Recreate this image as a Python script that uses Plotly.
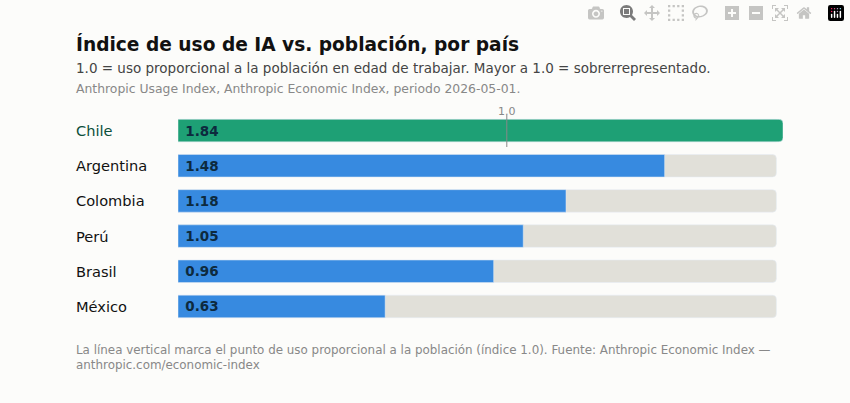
import plotly.graph_objects as go

countries = ["Chile", "Argentina", "Colombia", "Perú", "Brasil", "México"]
values = [1.84, 1.48, 1.18, 1.05, 0.96, 0.63]
track_max = 1.82
highlight = "Chile"

W, H = 850, 403
colors = ["#1ea075" if c == highlight else "#378ae0" for c in countries]

fig = go.Figure()
# gray track behind each bar
fig.add_trace(go.Bar(
    y=countries, x=[track_max] * len(countries), orientation="h",
    marker=dict(color="#e1e0d9", cornerradius=4), width=0.64,
    hoverinfo="skip", showlegend=False,
))
fig.add_trace(go.Bar(
    y=countries, x=values, orientation="h",
    marker=dict(color=colors, cornerradius=4), width=0.64,
    text=[f" <b>{v:.2f}</b>" for v in values], textposition="inside",
    insidetextanchor="start", textfont=dict(size=13.5, color="#0d2a3e"),
    showlegend=False,
))

fig.update_layout(
    width=W, height=H, barmode="overlay", bargap=0.36,
    paper_bgcolor="#fcfcfa", plot_bgcolor="#fcfcfa",
    margin=dict(l=0, r=0, t=0, b=0),
    font=dict(family="DejaVu Sans", color="#222"),
    xaxis=dict(domain=[178 / W, 783 / W], range=[0, 1.84], visible=False),
    yaxis=dict(domain=[1 - 324 / H, 1 - 113 / H], autorange="reversed",
               showticklabels=False, showgrid=False, zeroline=False),
)

# country labels
for c in countries:
    fig.add_annotation(x=74 / W, xref="paper", y=c, yref="y", text=c,
                       showarrow=False, xanchor="left",
                       font=dict(size=14.6, color="#0b4f3a" if c == highlight else "#111"))

# reference line at 1.0
fig.add_shape(type="line", x0=1.0, x1=1.0, xref="x", y0=1 - 147 / H, y1=1 - 115 / H,
              yref="paper", line=dict(color="#888", width=1))
fig.add_annotation(x=1.0, xref="x", y=1 - 103 / H, yref="paper", text="1.0",
                   showarrow=False, font=dict(size=11, color="#888"))

texts = [
    (44, "<b>Índice de uso de IA vs. población, por país</b>", 18.6, "#111"),
    (68, "1.0 = uso proporcional a la población en edad de trabajar. Mayor a 1.0 = sobrerrepresentado.", 13.5, "#444"),
    (88, "Anthropic Usage Index, Anthropic Economic Index, periodo 2026-05-01.", 12.4, "#888"),
    (357, "La línea vertical marca el punto de uso proporcional a la población (índice 1.0). Fuente: Anthropic Economic Index —<br>anthropic.com/economic-index", 11.9, "#888"),
]
for y, t, s, col in texts:
    fig.add_annotation(x=74 / W, xref="paper", y=1 - y / H, yref="paper", text=t,
                       showarrow=False, xanchor="left", yanchor="middle", align="left",
                       font=dict(size=s, color=col))

fig.write_html("out.html", post_script="document.body.style.margin='0';document.body.style.background='#fcfcfa';")
